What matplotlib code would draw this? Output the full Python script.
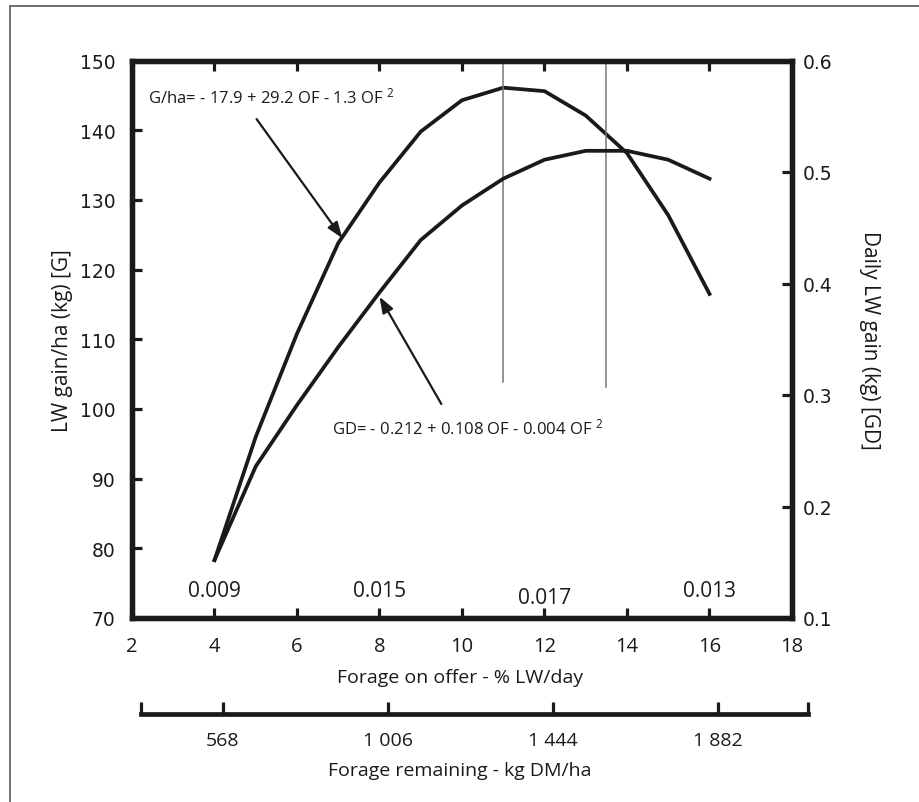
import matplotlib
matplotlib.use('Agg')
import matplotlib.pyplot as plt
from matplotlib.patches import Rectangle

plt.rcParams['font.family'] = ['Open Sans', 'DejaVu Sans']
plt.rcParams['mathtext.default'] = 'regular'

# Data
offer = [4, 5, 6, 7, 8, 9, 10, 11, 12, 13, 14, 15, 16]
gain_ha = [78.3, 96.0, 110.8, 123.8, 132.5, 139.8, 144.3, 146.1, 145.6, 142.1, 136.7, 127.8, 116.5]
gain_daily = [0.152, 0.236, 0.291, 0.343, 0.392, 0.439, 0.470, 0.494, 0.511, 0.519, 0.519, 0.511, 0.494]

offer_ticks = [2, 4, 6, 8, 10, 12, 14, 16, 18]
gain_ha_ticks = [70, 80, 90, 100, 110, 120, 130, 140, 150]
gain_daily_ticks = [0.1, 0.2, 0.3, 0.4, 0.5, 0.6]

remaining_ticks = [350, 568, 1006, 1444, 1882, 2121]
remaining_labels = ['', '568', '1 006', '1 444', '1 882', '']

efficiency_x = [4, 8, 12, 16]
efficiency_labels = ['0.009', '0.015', '0.017', '0.013']
efficiency_y = [74.0, 74.0, 73.0, 74.0]

optimum_x = [11, 13.5]
optimum_bottom = [103.9, 103.1]

W, H = 920, 803
INK = '#1a1a1a'


def px_rect(x0, y0, x1, y1):
    # pixel box (top-left origin) -> figure fraction rect
    return [x0 / W, 1 - y1 / H, (x1 - x0) / W, (y1 - y0) / H]


fig = plt.figure(figsize=(W / 100, H / 100), dpi=100)

# outer frame (cropped on right and bottom)
fig.add_artist(Rectangle((10 / W, -0.1), 1.2, 1 - 7 / H + 0.1, transform=fig.transFigure,
                         fill=False, edgecolor='#555555', linewidth=1.2))

ax = fig.add_axes(px_rect(132, 61.5, 792, 619))
ax2 = ax.twinx()

for a in (ax, ax2):
    for s in a.spines.values():
        s.set_linewidth(3.8)
        s.set_color(INK)

# curves
ax.plot(offer, gain_ha, color=INK, linewidth=2.7, solid_joinstyle='miter')
ax2.plot(offer, gain_daily, color=INK, linewidth=2.7, solid_joinstyle='miter')

# optimum lines
for xv, yb in zip(optimum_x, optimum_bottom):
    ax.plot([xv, xv], [yb, 150], color='#777777', linewidth=1.1)

ax.set_xlim(2, 18)
ax.set_ylim(70, 150)
ax2.set_ylim(0.1, 0.6)

ax.set_xticks(offer_ticks)
ax.set_yticks(gain_ha_ticks)
ax2.set_yticks(gain_daily_ticks)
ax2.set_yticklabels([f'{v:.1f}' for v in gain_daily_ticks])

ax.tick_params(axis='x', direction='in', top=True, length=7, width=2.3, pad=13,
               labelsize=14.5, colors=INK)
ax.tick_params(axis='y', direction='in', length=7, width=2.3, pad=12,
               labelsize=13.5, colors=INK)
ax2.tick_params(axis='y', direction='in', length=7, width=2.3, pad=8,
                labelsize=13.5, colors=INK)
for lab in ax.get_yticklabels() + ax2.get_yticklabels():
    lab.set_fontfamily('DejaVu Sans')

ax.set_xlabel('Forage on offer - % LW/day', fontsize=14, color=INK)
ax.xaxis.set_label_coords(0.497, -0.09)
ax.set_ylabel('LW gain/ha (kg) [G]', fontsize=15, color=INK)
ax.yaxis.set_label_coords(-0.09, 0.5)
ax2.set_ylabel('Daily LW gain (kg) [GD]', fontsize=15, color=INK, rotation=270,
               va='center')
ax2.yaxis.set_label_coords(1.118, 0.5)

# efficiency values along the bottom
for xv, yv, t in zip(efficiency_x, efficiency_y, efficiency_labels):
    ax.text(xv, yv, t, ha='center', va='center', fontsize=15, color=INK)

# equations and arrows
ax.text(2.39, 144.9, r'G/ha= - 17.9 + 29.2 OF - 1.3 OF $^{2}$', ha='left', va='center',
        fontsize=12, color=INK)
ax.annotate('', xy=(7.1, 124.5), xytext=(5.02, 141.6),
            arrowprops=dict(arrowstyle='-|>,head_length=0.6,head_width=0.22', color=INK,
                            lw=1.6, mutation_scale=16, shrinkA=0, shrinkB=0))
ax.text(6.85, 97.4, r'GD= - 0.212 + 0.108 OF - 0.004 OF $^{2}$', ha='left', va='center',
        fontsize=12, color=INK)
ax.annotate('', xy=(8.0, 116.1), xytext=(9.5, 100.7),
            arrowprops=dict(arrowstyle='-|>,head_length=0.6,head_width=0.22', color=INK,
                            lw=1.6, mutation_scale=16, shrinkA=0, shrinkB=0))

# forage remaining scale
ax3 = fig.add_axes(px_rect(140.7, 700, 808, 715))
ax3.patch.set_visible(False)
for side in ('top', 'left', 'right'):
    ax3.spines[side].set_visible(False)
ax3.spines['bottom'].set_linewidth(3.4)
ax3.spines['bottom'].set_color(INK)
ax3.set_yticks([])
ax3.set_xlim(350, 2121)
ax3.set_xticks(remaining_ticks)
ax3.set_xticklabels(remaining_labels)
ax3.tick_params(axis='x', direction='in', length=9, width=2.3, pad=12,
                labelsize=14, colors=INK)
fig.text(460 / W, 1 - 771 / H, 'Forage remaining - kg DM/ha', ha='center', va='center',
         fontsize=14, color=INK)

fig.savefig('out.png', dpi=100)
